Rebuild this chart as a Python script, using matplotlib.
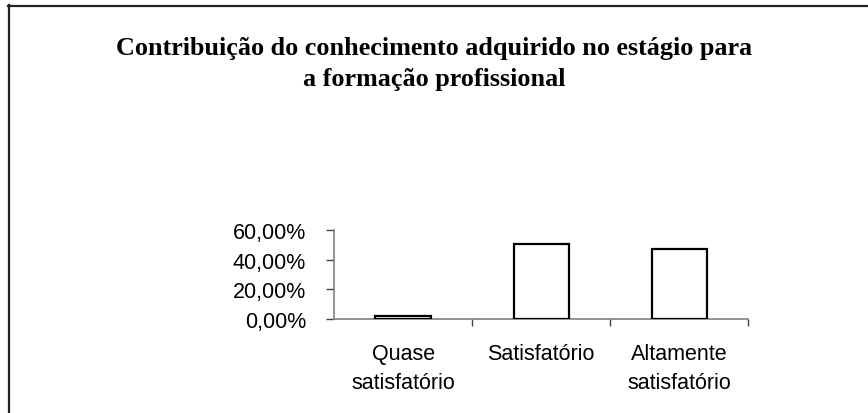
import matplotlib.pyplot as plt
from matplotlib.lines import Line2D
from matplotlib.ticker import FuncFormatter

# dados do gráfico
categorias = ['Quase\nsatisfatório', 'Satisfatório', 'Altamente\nsatisfatório']
percentuais = [2.0, 50.6, 47.1]
titulo = 'Contribuição do conhecimento adquirido no estágio para\na formação profissional'

W, H = 868, 414
fig = plt.figure(figsize=(W / 100, H / 100), dpi=100)
fig.patch.set_facecolor('white')

# borda do gráfico (só esquerda e topo aparecem)
fig.add_artist(Line2D([8.5 / W, 8.5 / W], [0, 1 - 6 / H], transform=fig.transFigure,
                      color='#222222', lw=1.6))
fig.add_artist(Line2D([8 / W, 1], [1 - 6.5 / H, 1 - 6.5 / H], transform=fig.transFigure,
                      color='#222222', lw=1.6))

fig.text(434 / W, 1 - 64 / H, titulo, ha='center', va='center',
         family='Liberation Serif', fontweight='bold', fontsize=18.8, linespacing=1.45)

ax = fig.add_axes([334 / W, 1 - 320 / H, (748.5 - 334) / W, (320 - 231) / H])
x = range(len(categorias))
ax.bar(x, percentuais, width=0.4, color='white', edgecolor='black', linewidth=1.6, zorder=3)

ax.set_xlim(-0.5, 2.5)
ax.set_ylim(0, 60)
ax.set_yticks([0, 20, 40, 60])
ax.yaxis.set_major_formatter(FuncFormatter(lambda v, p: f'{v:.2f}%'.replace('.', ',')))

ax.set_xticks(list(x))
ax.set_xticklabels(categorias, family='Liberation Sans', fontsize=15.5, linespacing=1.5)
ax.set_xticks([0.5, 1.5, 2.5], minor=True)
ax.tick_params(axis='x', which='major', length=0, pad=17)
ax.tick_params(axis='x', which='minor', length=5, width=1, color='#444444', direction='out')
ax.tick_params(axis='y', length=6, width=1, color='#444444', pad=14, labelsize=15.5)
for lbl in ax.get_yticklabels():
    lbl.set_family('Liberation Sans')

for s in ['top', 'right']:
    ax.spines[s].set_visible(False)
for s in ['left', 'bottom']:
    ax.spines[s].set_color('#808080')
    ax.spines[s].set_linewidth(1.2)

plt.savefig('out.png', dpi=100)
